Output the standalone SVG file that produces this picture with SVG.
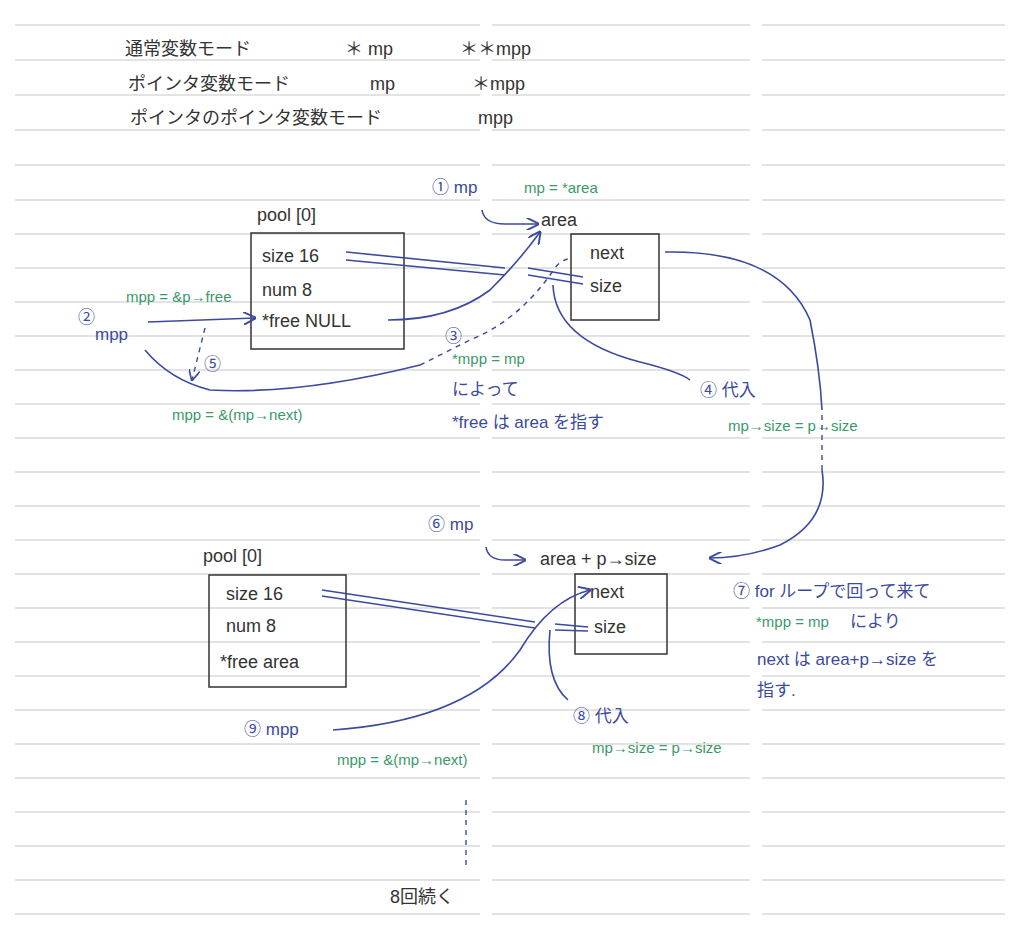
<svg xmlns="http://www.w3.org/2000/svg" width="1024" height="933" viewBox="0 0 1024 933">
<defs>
<style>
.rl{stroke:#c8c8c8;stroke-width:1.2}
.k{font-family:"Liberation Sans","Noto Sans CJK JP",sans-serif;fill:#333;font-size:18px}
.b{font-family:"Liberation Sans","Noto Sans CJK JP",sans-serif;fill:#3a4aa0;font-size:17px}
.g{font-family:"Liberation Sans","Noto Sans CJK JP",sans-serif;fill:#3a9a6a;font-size:15px}
.box{fill:none;stroke:#333;stroke-width:1.5}
.w{fill:none;stroke:#3a4aa0;stroke-width:1.6}
.d{fill:none;stroke:#3a4aa0;stroke-width:1.4;stroke-dasharray:5 5}
</style>
<marker id="a" viewBox="0 0 10 10" refX="9" refY="5" markerWidth="8" markerHeight="8" orient="auto"><path d="M0,0 L10,5 L0,10" fill="none" stroke="#3a4aa0" stroke-width="1.5"/></marker>
</defs>
<rect width="1024" height="933" fill="#fff"/>
<g id="rules">
<path class="rl" d="M15,25H480M492,25H750M762,25H1005M15,60H480M492,60H750M762,60H1005M15,95H480M492,95H750M762,95H1005M15,130H480M492,130H750M762,130H1005M15,165H480M492,165H750M762,165H1005M15,200H480M492,200H750M762,200H1005M15,234H480M492,234H750M762,234H1005M15,268H480M492,268H750M762,268H1005M15,302H480M492,302H750M762,302H1005M15,336H480M492,336H750M762,336H1005M15,370H480M492,370H750M762,370H1005M15,404H480M492,404H750M762,404H1005M15,438H480M492,438H750M762,438H1005M15,472H480M492,472H750M762,472H1005M15,506H480M492,506H750M762,506H1005M15,540H480M492,540H750M762,540H1005M15,574H480M492,574H750M762,574H1005M15,608H480M492,608H750M762,608H1005M15,642H480M492,642H750M762,642H1005M15,676H480M492,676H750M762,676H1005M15,710H480M492,710H750M762,710H1005M15,744H480M492,744H750M762,744H1005M15,778H480M492,778H750M762,778H1005M15,812H480M492,812H750M762,812H1005M15,846H480M492,846H750M762,846H1005M15,880H480M492,880H750M762,880H1005M15,914H480M492,914H750M762,914H1005"/>
</g>
<g id="header">
<text class="k" x="125" y="55" font-size="21">通常変数モード</text>
<text class="k" x="345" y="55">＊ mp</text>
<text class="k" x="460" y="55">＊＊mpp</text>
<text class="k" x="128" y="90" font-size="19">ポインタ変数モード</text>
<text class="k" x="370" y="90">mp</text>
<text class="k" x="472" y="90">＊mpp</text>
<text class="k" x="130" y="124" font-size="16">ポインタのポインタ変数モード</text>
<text class="k" x="478" y="124">mpp</text>
</g>
<g id="pool1">
<text class="k" x="257" y="221" font-size="16">pool [0]</text>
<rect class="box" x="251" y="233" width="153" height="116"/>
<text class="k" x="262" y="262">size  16</text>
<text class="k" x="262" y="296">num  8</text>
<text class="k" x="262" y="327">*free  NULL</text>
</g>
<g id="area1">
<text class="b" x="432" y="193">①  mp</text>
<text class="g" x="524" y="193">mp = *area</text>
<text class="k" x="541" y="226">area</text>
<rect class="box" x="571" y="234" width="88" height="86"/>
<text class="k" x="590" y="259">next</text>
<text class="k" x="590" y="292">size</text>
</g>
<g id="pool2">
<text class="k" x="203" y="562" font-size="16">pool [0]</text>
<rect class="box" x="209" y="575" width="137" height="112"/>
<text class="k" x="226" y="600">size  16</text>
<text class="k" x="226" y="632">num  8</text>
<text class="k" x="220" y="668">*free  area</text>
</g>
<g id="area2">
<text class="b" x="428" y="530">⑥  mp</text>
<text class="k" x="540" y="565">area + p→size</text>
<rect class="box" x="575" y="574" width="92" height="80"/>
<text class="k" x="590" y="598">next</text>
<text class="k" x="594" y="633">size</text>
</g>
<g id="labels">
<text class="b" x="78" y="323">②</text>
<text class="b" x="95" y="340">mpp</text>
<text class="g" x="126" y="302">mpp = &amp;p→free</text>
<text class="b" x="204" y="370">⑤</text>
<text class="g" x="172" y="420">mpp = &amp;(mp→next)</text>
<text class="b" x="445" y="342">③</text>
<text class="g" x="452" y="364">*mpp = mp</text>
<text class="b" x="452" y="395" font-size="15">によって</text>
<text class="b" x="452" y="428" font-size="15">*free は area を指す</text>
<text class="b" x="700" y="396">④ 代入</text>
<text class="g" x="728" y="431" font-size="17">mp→size = p→size</text>
<text class="b" x="733" y="597" font-size="15">⑦ for ループで回って来て</text>
<text class="g" x="756" y="627">*mpp = mp</text>
<text class="b" x="850" y="627" font-size="15">により</text>
<text class="b" x="757" y="665" font-size="15">next は  area+p→size を</text>
<text class="b" x="757" y="696" font-size="15">指す.</text>
<text class="b" x="244" y="735">⑨  mpp</text>
<text class="g" x="337" y="765">mpp = &amp;(mp→next)</text>
<text class="b" x="573" y="722">⑧ 代入</text>
<text class="g" x="592" y="753">mp→size = p→size</text>
<text class="k" x="390" y="903" font-size="17">8回続く</text>
</g>
<g id="connectors">
<path class="w" d="M482,210 Q484,224 505,224 L538,224" marker-end="url(#a)"/>
<path class="w" d="M388,320 Q450,320 490,290 Q520,260 540,232" marker-end="url(#a)"/>
<path class="w" d="M148,322 L255,318" marker-end="url(#a)"/>
<path class="w" d="M346,252 L505,268 M346,260 L505,275"/>
<path class="w" d="M528,268 L583,277 M528,275 L583,284"/>
<path class="w" d="M145,350 Q170,380 210,390 Q300,395 420,365"/>
<path class="d" d="M420,365 L470,340 Q520,320 555,268 Q560,260 572,258"/>
<path class="d" d="M205,328 L192,380" marker-end="url(#a)"/>
<path class="w" d="M553,285 Q555,340 640,362 Q680,372 690,380"/>
<path class="w" d="M665,252 Q780,250 810,320 Q820,370 822,410"/>
<path class="d" d="M822,415 L822,470"/>
<path class="w" d="M822,470 Q830,520 780,545 Q745,558 710,558" marker-end="url(#a)"/>
<path class="w" d="M486,547 Q488,560 505,560 L525,560" marker-end="url(#a)"/>
<path class="w" d="M322,590 L535,622 M322,596 L535,628"/>
<path class="w" d="M555,624 L588,627 M555,630 L588,631"/>
<path class="w" d="M333,730 Q470,720 520,650 Q550,600 590,590" marker-end="url(#a)"/>
<path class="w" d="M550,630 Q545,680 568,700"/>
<path class="d" d="M466,800 L466,870"/>
</g>
</svg>
